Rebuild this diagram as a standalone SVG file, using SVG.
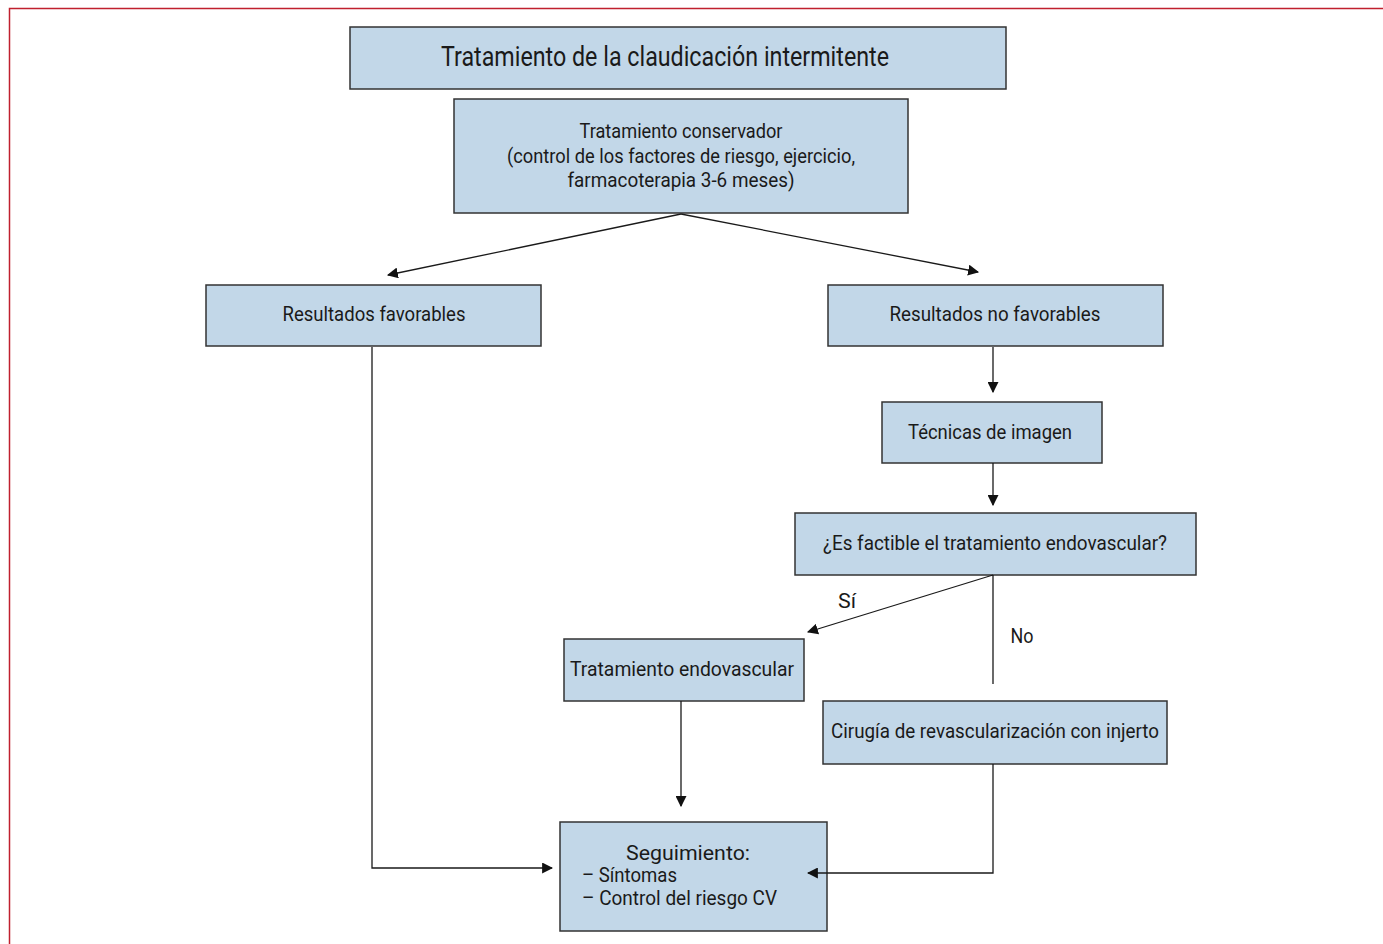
<svg xmlns="http://www.w3.org/2000/svg" width="1383" height="944" viewBox="0 0 1383 944">
<style>
.box{fill:#c2d7e8;stroke:#333;stroke-width:1.5}
.t{font-family:"Liberation Sans Narrow","Roboto","Liberation Sans",sans-serif;font-size:20px;fill:#1a1a1a;text-anchor:middle}
.tl{text-anchor:start}
.c{fill:none;stroke:#1a1a1a;stroke-width:1.3}
</style>
<defs>
<marker id="a" viewBox="0 0 10 10" refX="9" refY="5" markerWidth="11" markerHeight="11" markerUnits="userSpaceOnUse" orient="auto">
<path d="M0,0L10,5L0,10z" fill="#111"/>
</marker>
</defs>
<rect width="1383" height="944" fill="#fff"/>
<path d="M9.5,944V8.5H1383" fill="none" stroke="#c0202e" stroke-width="1.5"/>
<g id="n1"><rect class="box" x="350" y="27" width="656" height="62"/><text class="t" x="665" y="66" style="font-size:27px" textLength="448" lengthAdjust="spacingAndGlyphs">Tratamiento de la claudicación intermitente</text></g>
<g id="n2"><rect class="box" x="454" y="99" width="454" height="114"/>
<text class="t" x="681" y="138" textLength="203" lengthAdjust="spacingAndGlyphs">Tratamiento conservador</text>
<text class="t" x="681" y="163" textLength="348" lengthAdjust="spacingAndGlyphs">(control de los factores de riesgo, ejercicio,</text>
<text class="t" x="681" y="187" textLength="227" lengthAdjust="spacingAndGlyphs">farmacoterapia 3-6 meses)</text></g>
<g id="n3"><rect class="box" x="206" y="285" width="335" height="61"/><text class="t" x="374" y="321" textLength="183" lengthAdjust="spacingAndGlyphs">Resultados favorables</text></g>
<g id="n4"><rect class="box" x="828" y="285" width="335" height="61"/><text class="t" x="995" y="321" textLength="211" lengthAdjust="spacingAndGlyphs">Resultados no favorables</text></g>
<g id="n5"><rect class="box" x="882" y="402" width="220" height="61"/><text class="t" x="990" y="439" textLength="164" lengthAdjust="spacingAndGlyphs">Técnicas de imagen</text></g>
<g id="n6"><rect class="box" x="795" y="513" width="401" height="62"/><text class="t" x="995" y="550" textLength="344" lengthAdjust="spacingAndGlyphs">¿Es factible el tratamiento endovascular?</text></g>
<g id="n7"><rect class="box" x="564" y="639" width="240" height="62"/><text class="t" x="682" y="676" textLength="224" lengthAdjust="spacingAndGlyphs">Tratamiento endovascular</text></g>
<g id="n8"><rect class="box" x="823" y="701" width="344" height="63"/><text class="t" x="995" y="738" textLength="328" lengthAdjust="spacingAndGlyphs">Cirugía de revascularización con injerto</text></g>
<g id="n9"><rect class="box" x="560" y="822" width="267" height="109"/>
<text class="t" x="688" y="860" textLength="124" lengthAdjust="spacingAndGlyphs">Seguimiento:</text>
<text class="t tl" x="582" y="882" textLength="95" lengthAdjust="spacingAndGlyphs">– Síntomas</text>
<text class="t tl" x="582" y="905" textLength="195" lengthAdjust="spacingAndGlyphs">– Control del riesgo CV</text></g>
<g id="connectors">
<path class="c" d="M681,214L388,275" marker-end="url(#a)"/>
<path class="c" d="M681,214L978,272" marker-end="url(#a)"/>
<path class="c" d="M993,347V392" marker-end="url(#a)"/>
<path class="c" d="M993,463V505" marker-end="url(#a)"/>
<path class="c" d="M993,575L808,632" marker-end="url(#a)"/>
<path class="c" d="M993,575V684"/>
<path class="c" d="M681,701V806" marker-end="url(#a)"/>
<path class="c" d="M372,347V868H552" marker-end="url(#a)"/>
<path class="c" d="M993,764V873H808" marker-end="url(#a)"/>
<text class="t" x="847" y="608" textLength="18" lengthAdjust="spacingAndGlyphs">Sí</text>
<text class="t" x="1022" y="643" textLength="23" lengthAdjust="spacingAndGlyphs">No</text>
</g>
</svg>
